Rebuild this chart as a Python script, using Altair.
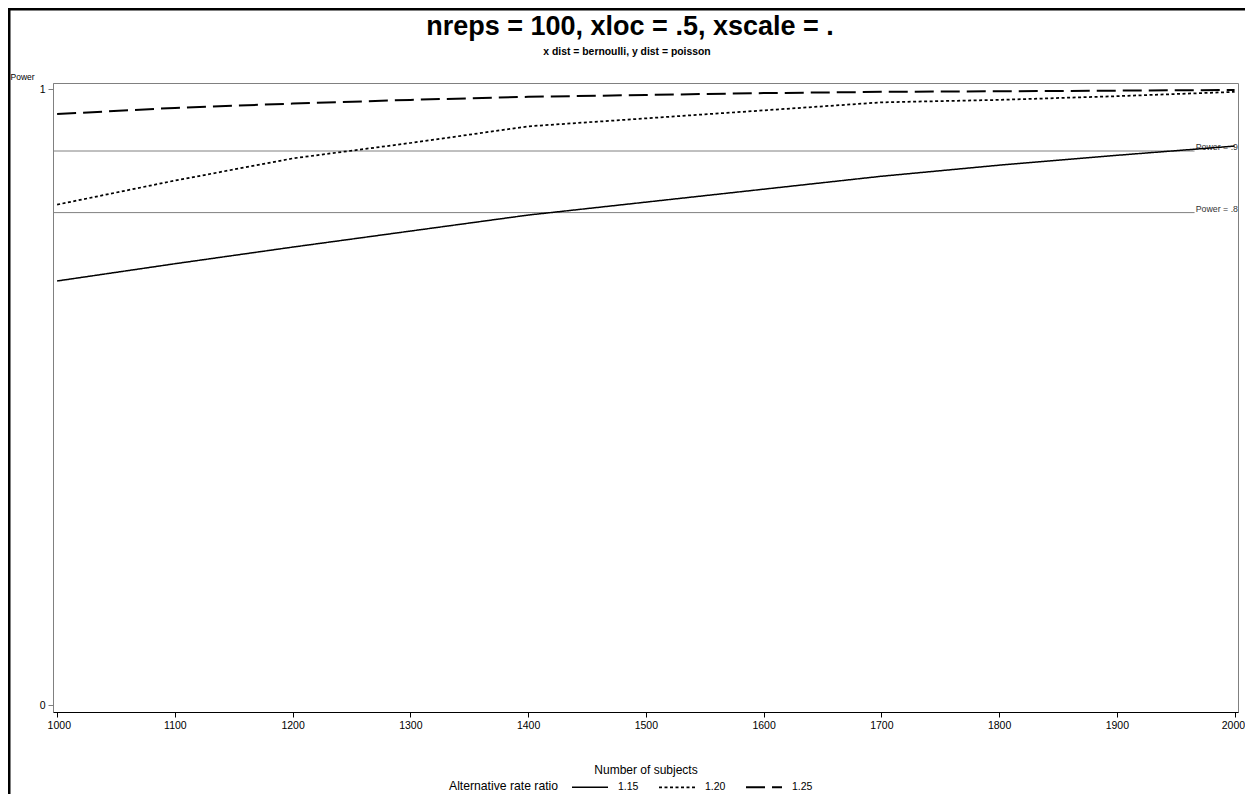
import altair as alt
import pandas as pd

# ---------------- data ----------------
n_subjects = [1000, 1100, 1200, 1300, 1400, 1500, 1600, 1700, 1800, 1900, 2000]
power_115 = [0.689, 0.717, 0.744, 0.770, 0.796, 0.817, 0.838, 0.859, 0.877, 0.893, 0.908]
power_120 = [0.813, 0.852, 0.888, 0.913, 0.940, 0.953, 0.966, 0.979, 0.983, 0.989, 0.996]
power_125 = [0.960, 0.970, 0.977, 0.983, 0.988, 0.991, 0.994, 0.996, 0.997, 0.998, 0.999]
ratio_labels = ["1.15", "1.20", "1.25"]
ref_levels = [0.9, 0.8]
ref_labels = ["Power = .9", "Power = .8"]
x_ticks = [1000, 1100, 1200, 1300, 1400, 1500, 1600, 1700, 1800, 1900, 2000]
y_ticks = [0, 1]
title_text = "nreps = 100, xloc = .5, xscale = ."
subtitle_text = "x dist = bernoulli, y dist = poisson"

# ---------------- tables ----------------
rows = []
for lab, vals in zip(ratio_labels, [power_115, power_120, power_125]):
    for n, p in zip(n_subjects, vals):
        rows.append({"n": n, "power": p, "ratio": lab})
df = pd.DataFrame(rows)

X_DOMAIN = [996.5, 2002.9]
Y_DOMAIN = [-0.0107, 1.0104]
ref_df = pd.DataFrame({
    "level": ref_levels,
    "label": ref_labels,
    "x0": [X_DOMAIN[0]] * len(ref_levels),
    "x1": [1966.0] * len(ref_levels),
    "xt": [X_DOMAIN[1]] * len(ref_levels),
})
title_df = pd.DataFrame({"title": [title_text], "subtitle": [subtitle_text]})

FONT = "Liberation Sans"
W, H = 1185, 629
PAD = {"left": 45, "top": 75, "right": 7, "bottom": 82}

xscale = alt.Scale(domain=X_DOMAIN, nice=False, zero=False)
yscale = alt.Scale(domain=Y_DOMAIN, nice=False, zero=False)

legend = alt.Legend(
    orient="none", legendX=396, legendY=685, direction="horizontal",
    title="Alternative rate ratio", titleOrient="left", titleFontSize=12.2,
    titleFontWeight="normal", titleColor="black", titlePadding=12,
    titleBaseline="top",
    symbolType="stroke", symbolSize=1296, symbolStrokeColor="black",
    labelFontSize=10.5, labelColor="black", labelOffset=9, columnPadding=16,
)

lines = alt.Chart(df).mark_line(color="black", strokeCap="butt").encode(
    x=alt.X("n:Q", scale=xscale, axis=alt.Axis(
        values=x_ticks, title="Number of subjects", titleFontSize=12,
        titleFontWeight="normal", titleColor="black", titleY=57, titleBaseline="middle",
        labelFontSize=10.5, labelColor="black", labelPadding=3, tickSize=5,
        labelFlush=6, labelFlushOffset=10,
        tickColor="black", domainColor="black", grid=False, format="d")),
    y=alt.Y("power:Q", scale=yscale, axis=alt.Axis(
        values=y_ticks, title="Power", titleAngle=0, titleAlign="left",
        titleBaseline="middle", titleX=-43, titleY=-7, titleFontSize=8.5,
        titleFontWeight="normal", titleColor="black",
        labelFontSize=10.5, labelColor="black", labelPadding=3, tickSize=5,
        tickColor="#808080", domainColor="#808080", grid=False, format="d")),
    strokeDash=alt.StrokeDash("ratio:N", scale=alt.Scale(
        domain=ratio_labels, range=[[1, 0], [3, 2.5], [19, 7]]), legend=legend),
    strokeWidth=alt.StrokeWidth("ratio:N", scale=alt.Scale(
        domain=ratio_labels, range=[1.5, 2, 4]), legend=legend),
    detail="ratio:N",
)

refs = alt.Chart(ref_df).mark_rule(color="#808080", strokeWidth=1).encode(
    x=alt.X("x0:Q", scale=xscale), x2="x1:Q", y=alt.Y("level:Q", scale=yscale))

ref_text = alt.Chart(ref_df).mark_text(
    align="right", baseline="bottom", fontSize=8.8, color="#333333", font=FONT, dy=1
).encode(x=alt.X("xt:Q", scale=xscale), y=alt.Y("level:Q", scale=yscale), text="label:N")

title_mark = alt.Chart(title_df).mark_text(
    fontSize=27, fontWeight="bold", font=FONT, color="black",
    align="center", baseline="middle"
).encode(x=alt.value(577), y=alt.value(-56), text="title:N")

subtitle_mark = alt.Chart(title_df).mark_text(
    fontSize=10.4, fontWeight="bold", font=FONT, color="black",
    align="center", baseline="middle"
).encode(x=alt.value(574), y=alt.value(-31), text="subtitle:N")

frame_df = pd.DataFrame({"k": [0]})
left_border = alt.Chart(frame_df).mark_rule(color="black", strokeWidth=3).encode(
    x=alt.value(-44), y=alt.value(-75), y2=alt.value(H + PAD["bottom"]))
top_border = alt.Chart(frame_df).mark_rule(color="black", strokeWidth=3).encode(
    y=alt.value(-74), x=alt.value(-45), x2=alt.value(W + PAD["right"]))

chart = alt.layer(
    refs, ref_text, lines, title_mark, subtitle_mark, left_border, top_border
).properties(
    width=W, height=H,
    autosize=alt.AutoSizeParams(type="none"),
    padding=PAD,
).configure(font=FONT, background="white").configure_view(
    stroke="#808080", strokeWidth=1
).configure_axis(labelFont=FONT, titleFont=FONT).configure_legend(
    labelFont=FONT, titleFont=FONT)

chart.save("out.html", embed_options={"renderer": "svg", "actions": False})
